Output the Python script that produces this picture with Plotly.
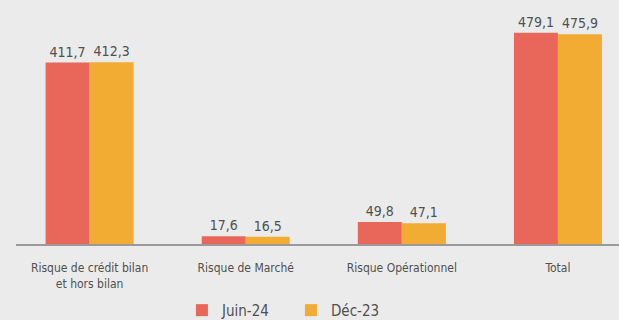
import plotly.graph_objects as go

# Risk categories and period values (in the chart's units)
categories = [
    "Risque de crédit bilan<br>et hors bilan",
    "Risque de Marché",
    "Risque Opérationnel",
    "Total",
]
juin_24 = [411.7, 17.6, 49.8, 479.1]
dec_23 = [412.3, 16.5, 47.1, 475.9]
series_names = ["Juin-24", "Déc-23"]

RED = "#E8675A"
ORANGE = "#F2AC33"
TEXT = "#505050"
BG = "#EBEBEB"
FONT = "DejaVu Sans Condensed, Liberation Sans Narrow, Roboto, sans-serif"


def fmt(v):
    return f"{v:.1f}".replace(".", ",")


fig = go.Figure()
for name, vals, col in [(series_names[0], juin_24, RED), (series_names[1], dec_23, ORANGE)]:
    fig.add_trace(go.Bar(
        x=categories,
        y=vals,
        name=name,
        marker=dict(color=col, line=dict(width=0)),
        text=[fmt(v) for v in vals],
        textposition="outside",
        textfont=dict(size=14, color=TEXT, family=FONT),
        cliponaxis=False,
    ))

fig.update_layout(
    width=619,
    height=320,
    margin=dict(l=16, r=0, t=10, b=76, autoexpand=False),
    paper_bgcolor=BG,
    plot_bgcolor=BG,
    barmode="group",
    bargap=0.436,
    bargroupgap=0,
    font=dict(family=FONT, color=TEXT),
    showlegend=True,
    legend=dict(
        orientation="h",
        x=0.47,
        xanchor="center",
        xref="container",
        y=0.03,
        yanchor="middle",
        yref="container",
        font=dict(size=15, color=TEXT, family=FONT),
        bgcolor="rgba(0,0,0,0)",
        itemsizing="constant",
        entrywidth=64,
    ),
    xaxis=dict(
        range=[-0.4715, 3.391],
        showline=True,
        linecolor="#9A9A9A",
        linewidth=1.5,
        showgrid=False,
        ticks="",
        tickfont=dict(size=12, color=TEXT, family=FONT),
        ticklabelstandoff=12,
    ),
    yaxis=dict(
        range=[0, 531],
        visible=False,
        showgrid=False,
        zeroline=False,
    ),
)

fig.write_html("out.html")
